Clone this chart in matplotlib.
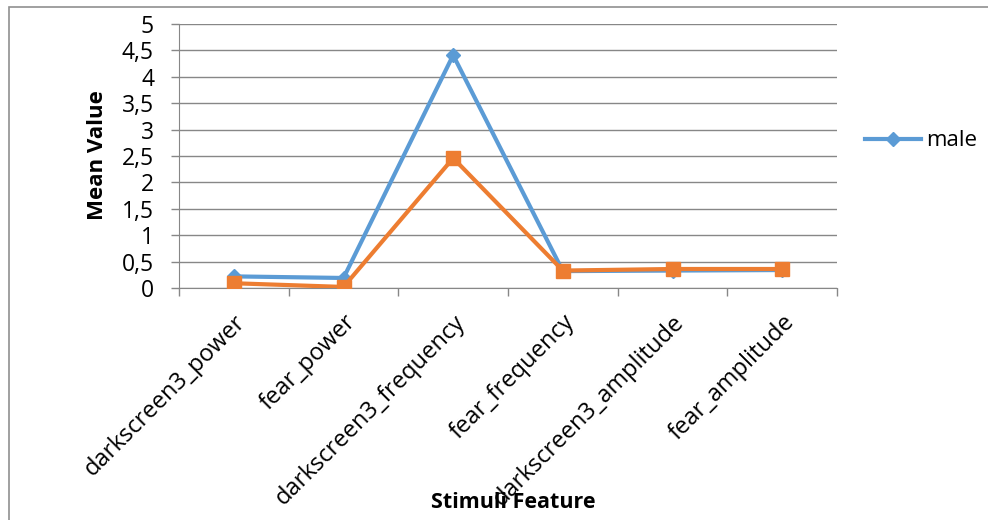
import matplotlib
matplotlib.use("Agg")
import matplotlib.pyplot as plt
from matplotlib.lines import Line2D
from matplotlib.patches import Rectangle
from matplotlib.ticker import FuncFormatter

categories = ["darkscreen3_power", "fear_power", "darkscreen3_frequency",
              "fear_frequency", "darkscreen3_amplitude", "fear_amplitude"]
male = [0.22, 0.19, 4.41, 0.32, 0.33, 0.34]
female = [0.09, 0.02, 2.46, 0.33, 0.36, 0.36]
y_ticks = [0, 0.5, 1, 1.5, 2, 2.5, 3, 3.5, 4, 4.5, 5]

BLUE = "#5B9BD5"
ORANGE = "#ED7D31"
GRID = "#878787"

plt.rcParams["font.family"] = ["Open Sans", "DejaVu Sans"]

W, H = 988, 520
fig = plt.figure(figsize=(W / 100, H / 100), dpi=100)

# chart-area frame (left and top edges visible)
fig.patches.append(Rectangle((8.5 / W, -0.05), 1.2, 1 - 6.5 / H + 0.05,
                             transform=fig.transFigure, fill=False,
                             edgecolor="#909090", linewidth=1.2))

ax = fig.add_axes([179 / W, 1 - 288 / H, 658 / W, 264 / H])
x = list(range(len(categories)))

ax.plot(x, male, color=BLUE, linewidth=3, marker="D", markersize=7.5,
        markerfacecolor=BLUE, markeredgecolor=BLUE, zorder=3)
ax.plot(x, female, color=ORANGE, linewidth=3, marker="s", markersize=10.5,
        markerfacecolor=ORANGE, markeredgecolor=ORANGE, zorder=4)

ax.set_xlim(-0.5, len(categories) - 0.5)
ax.set_ylim(0, 5)
ax.set_yticks(y_ticks)
ax.yaxis.set_major_formatter(FuncFormatter(lambda v, p: f"{v:g}".replace(".", ",")))
ax.grid(axis="y", color=GRID, linewidth=1)
ax.set_axisbelow(True)

# category boundaries carry the tick marks, category centres carry the labels
ax.set_xticks([i - 0.5 for i in range(len(categories) + 1)])
ax.set_xticklabels([""] * (len(categories) + 1))
ax.set_xticks(x, minor=True)
ax.set_xticklabels(categories, minor=True, rotation=45, ha="right",
                   rotation_mode="anchor", fontsize=17)
ax.tick_params(axis="x", which="minor", length=0, pad=16)
ax.tick_params(axis="x", which="major", length=6, color=GRID, width=1)
ax.tick_params(axis="y", length=6, color=GRID, width=1, labelsize=16.5, pad=12)

for side in ["top", "right"]:
    ax.spines[side].set_visible(False)
ax.spines["left"].set_color(GRID)
ax.spines["bottom"].set_color(GRID)

fig.text(97 / W, 1 - 155 / H, "Mean Value", rotation=90, ha="center",
         va="center", fontsize=16, fontweight="bold")
fig.text(513 / W, 1 - 503 / H, "Stimuli Feature", ha="center", va="center",
         fontsize=15.5, fontweight="bold")

handle = Line2D([], [], color=BLUE, linewidth=3, marker="D", markersize=7.5)
fig.legend([handle], ["male"], loc="center left",
           bbox_to_anchor=(865 / W, 1 - 141 / H), frameon=False,
           fontsize=16, handlelength=2.5, handletextpad=0.25,
           borderpad=0, borderaxespad=0)

fig.savefig("out.png", dpi=100)
